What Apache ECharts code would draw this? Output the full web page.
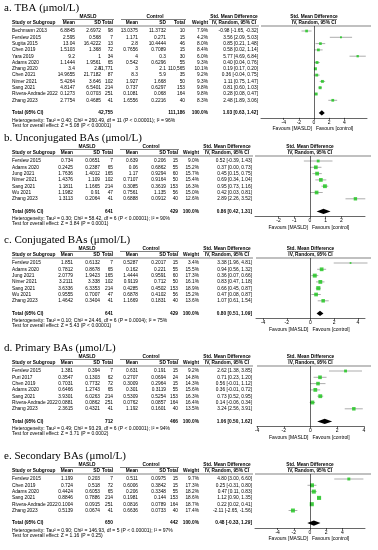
<!DOCTYPE html>
<html><head><meta charset="utf-8">
<script src="https://cdn.jsdelivr.net/npm/echarts@6/dist/echarts.min.js"></script>
<style>html,body{margin:0;padding:0;background:#fff}#c{width:378px;height:550px}</style>
</head><body><div id="c"></div>
<script>
// ---------- Panel a: TBA ----------
const aTitle = 'a. TBA (μmol/L)';
const aStudy = ['Bechmann 2013','Ferslew 2015','Sugita 2015','Chen 2019','Yara 2019','Adams 2020','Zhang 2020','Chen 2021','Nimer 2021','Sang 2021','Rivera-Andrade 2022','Zhang 2023'];
const aMMean = [6.8845,2.595,13.04,1.5103,9.2,1.1444,3.4,14.9655,5.4264,4.8147,0.1273,2.7754];
const aMSD = [2.6972,0.568,16.4222,1.368,1,1.9561,2.3,21.7182,3.646,6.5401,0.0703,0.4685];
const aMN = [98,7,13,72,34,65,41771,87,102,214,251,41];
const aCMean = [13.0375,1.171,2.8,0.7656,4,0.542,3,8.3,1.927,0.737,0.1081,1.6556];
const aCSD = [11.3732,0.271,10.4444,0.7089,0.3,0.6296,2.1,5.9,1.668,0.6297,0.068,0.2216];
const aCN = [10,15,46,15,30,55,110565,35,50,153,164,40];
const aWeight = [7.9,4.2,8.0,8.4,6.0,9.3,10.1,9.2,9.3,9.8,9.8,8.3];
const aSMD = [-0.98,3.56,0.85,0.58,5.77,0.40,0.19,0.36,1.11,0.81,0.28,2.48];
const aLo = [-1.65,2.09,0.21,0.02,4.69,0.04,0.17,-0.04,0.75,0.60,0.08,1.89];
const aHi = [-0.32,5.03,1.48,1.14,6.84,0.76,0.20,0.75,1.47,1.03,0.47,3.06];
const aTotal = [42755,111186,1.03,0.63,1.42];
const aHet = 'Heterogeneity: Tau² = 0.40; Chi² = 260.49, df = 11 (P < 0.00001); I² = 96%';
const aTest = 'Test for overall effect: Z = 5.08 (P < 0.00001)';
const aTicks = [-4,-2,0,2,4];

// ---------- Panel b: Unconjugated BAs ----------
const bTitle = 'b. Unconjugated BAs (μmol/L)';
const bStudy = ['Ferslew 2015','Adams 2020','Jung 2021','Nimer 2021','Sang 2021','Wu 2021','Zhang 2023'];
const bMMean = [0.734,0.2425,1.7636,1.4376,1.1811,1.1982,1.3113];
const bMSD = [0.0651,0.2387,1.4012,1.109,1.1665,0.91,0.2064];
const bMN = [7,65,165,102,214,47,41];
const bCMean = [0.639,0.06,1.17,0.7107,0.3085,0.7561,0.6888];
const bCSD = [0.206,0.6862,0.9294,0.9164,0.3619,1.135,0.0912];
const bCN = [15,55,60,50,153,56,40];
const bWeight = [9.0,15.2,15.7,15.4,16.3,15.0,12.6];
const bSMD = [0.52,0.37,0.45,0.69,0.95,0.42,2.89];
const bLo = [-0.39,0.00,0.15,0.34,0.73,0.03,2.26];
const bHi = [1.43,0.73,0.75,1.04,1.16,0.81,3.52];
const bTotal = [641,429,0.86,0.42,1.31];
const bHet = 'Heterogeneity: Tau² = 0.30; Chi² = 58.42, df = 6 (P < 0.00001); I² = 90%';
const bTest = 'Test for overall effect: Z = 3.84 (P = 0.0001)';
const bTicks = [-2,-1,0,1,2];

// ---------- Panel c: Conjugated BAs ----------
const cTitle = 'c. Conjugated BAs (μmol/L)';
const cStudy = ['Ferslew 2015','Adams 2020','Jung 2021','Nimer 2021','Sang 2021','Wu 2021','Zhang 2023'];
const cMMean = [1.851,0.7812,2.0779,3.2111,3.6336,0.9555,1.4642];
const cMSD = [0.6132,0.8678,1.9423,3.338,6.3353,0.7007,0.3404];
const cMN = [7,65,165,102,214,47,41];
const cCMean = [0.5287,0.162,1.4444,0.9119,0.4285,0.6878,1.1669];
const cCSD = [0.2017,0.221,0.9591,0.712,0.4502,0.4102,0.1831];
const cCN = [15,55,60,50,153,56,40];
const cWeight = [3.4,15.5,17.3,16.1,18.9,15.2,13.6];
const cSMD = [3.38,0.94,0.36,0.83,0.66,0.47,1.07];
const cLo = [1.96,0.56,0.07,0.47,0.45,0.08,0.61];
const cHi = [4.81,1.32,0.66,1.18,0.87,0.87,1.54];
const cTotal = [641,429,0.80,0.51,1.09];
const cHet = 'Heterogeneity: Tau² = 0.10; Chi² = 24.46, df = 6 (P = 0.0004); I² = 75%';
const cTest = 'Test for overall effect: Z = 5.43 (P < 0.00001)';
const cTicks = [-4,-2,0,2,4];

// ---------- Panel d: Primary BAs ----------
const dTitle = 'd. Primary BAs (μmol/L)';
const dStudy = ['Ferslew 2015','Puri 2017','Chen 2019','Adams 2020','Sang 2021','Rivera-Andrade 2022','Zhang 2023'];
const dMMean = [1.381,0.3547,0.7031,0.6466,3.9301,0.0881,2.3615];
const dMSD = [0.394,0.1303,0.7732,1.2743,6.0263,0.0862,0.4321];
const dMN = [7,62,72,65,214,251,41];
const dCMean = [0.631,0.2707,0.3009,0.301,0.5309,0.0762,1.192];
const dCSD = [0.191,0.0694,0.2964,0.3119,0.5254,0.0857,0.1601];
const dCN = [15,24,15,55,153,164,40];
const dWeight = [9.2,14.8,14.3,15.6,16.3,16.4,13.5];
const dSMD = [2.62,0.71,0.56,0.36,0.73,0.14,3.24];
const dLo = [1.38,0.23,-0.01,-0.01,0.52,-0.06,2.56];
const dHi = [3.85,1.20,1.12,0.72,0.95,0.34,3.91];
const dTotal = [712,466,1.06,0.50,1.62];
const dHet = 'Heterogeneity: Tau² = 0.49; Chi² = 93.29, df = 6 (P < 0.00001); I² = 94%';
const dTest = 'Test for overall effect: Z = 3.71 (P = 0.0002)';
const dTicks = [-4,-2,0,2,4];

// ---------- Panel e: Secondary BAs ----------
const eTitle = 'e. Secondary BAs (μmol/L)';
const eStudy = ['Ferslew 2015','Chen 2019','Adams 2020','Sang 2021','Rivera-Andrade 2022','Zhang 2023'];
const eMMean = [1.199,0.724,0.4424,0.8846,0.1004,0.5139];
const eMSD = [0.203,0.518,0.6053,0.7886,0.0915,0.0674];
const eMN = [7,72,65,214,251,41];
const eCMean = [0.511,0.6006,0.206,0.1981,0.0816,0.6636];
const eCSD = [0.0975,0.3842,0.3348,0.144,0.0789,0.0733];
const eCN = [15,15,55,153,164,40];
const eWeight = [9.7,17.3,18.2,18.6,18.7,17.4];
const eSMD = [4.80,0.25,0.47,1.12,0.22,-2.11];
const eLo = [3.00,-0.31,0.11,0.90,0.02,-2.65];
const eHi = [6.60,0.80,0.83,1.35,0.41,-1.56];
const eTotal = [650,442,0.48,-0.33,1.29];
const eHet = 'Heterogeneity: Tau² = 0.90; Chi² = 146.93, df = 5 (P < 0.00001); I² = 97%';
const eTest = 'Test for overall effect: Z = 1.16 (P = 0.25)';
const eTicks = [-4,-2,0,2,4];

// ---------- layout (positions only) ----------
const colsA = {study:12,mMean:75,mSD:101,mN:113,cMean:138,cSD:166,cN:185,w:208,ci:258,masldC:88,ctrlC:155,smdC:234,masldL:[62,114],ctrlL:[121,186],smdL:[209,257]};
const colsB = {study:12,mMean:73,mSD:100,mN:113,cMean:138,cSD:166,cN:178,w:199,ci:252,masldC:87,ctrlC:151,smdC:227,masldL:[60,113],ctrlL:[120,179],smdL:[203,250]};
const panels = [
  {title:aTitle,study:aStudy,mMean:aMMean,mSD:aMSD,mN:aMN,cMean:aCMean,cSD:aCSD,cN:aCN,w:aWeight,smd:aSMD,lo:aLo,hi:aHi,tot:aTotal,het:aHet,test:aTest,ticks:aTicks,
   y0:8,cols:colsA,fx:{left:261,right:367,min:-7,max:7}},
  {title:bTitle,study:bStudy,mMean:bMMean,mSD:bMSD,mN:bMN,cMean:bCMean,cSD:bCSD,cN:bCN,w:bWeight,smd:bSMD,lo:bLo,hi:bHi,tot:bTotal,het:bHet,test:bTest,ticks:bTicks,
   y0:138,cols:colsB,fx:{left:255,right:365,min:-3.5,max:3.5}},
  {title:cTitle,study:cStudy,mMean:cMMean,mSD:cMSD,mN:cMN,cMean:cCMean,cSD:cCSD,cN:cCN,w:cWeight,smd:cSMD,lo:cLo,hi:cHi,tot:cTotal,het:cHet,test:cTest,ticks:cTicks,
   y0:240,cols:colsB,fx:{left:256,right:365,min:-4.6,max:4.6}},
  {title:dTitle,study:dStudy,mMean:dMMean,mSD:dMSD,mN:dMN,cMean:dCMean,cSD:dCSD,cN:dCN,w:dWeight,smd:dSMD,lo:dLo,hi:dHi,tot:dTotal,het:dHet,test:dTest,ticks:dTicks,
   y0:348,cols:colsB,fx:{left:257,right:364,min:-4,max:4}},
  {title:eTitle,study:eStudy,mMean:eMMean,mSD:eMSD,mN:eMN,cMean:eCMean,cSD:eCSD,cN:eCN,w:eWeight,smd:eSMD,lo:eLo,hi:eHi,tot:eTotal,het:eHet,test:eTest,ticks:eTicks,
   y0:456,cols:colsB,fx:{left:255,right:365,min:-6.8,max:6.8}}
];

const STEP = 6.3, FS = 4.8, SANS = 'Liberation Sans, Arial, sans-serif';
const fmtN = v => v.toLocaleString('en-US');
const ciTxt = (e,l,h) => e.toFixed(2) + ' [' + l.toFixed(2) + ', ' + h.toFixed(2) + ']';

function T(x, y, s, align, bold, size, family) {
  return {type:'text', x:x, y:y, silent:true,
    style:{text:s, fill:'#000', fontSize:size||FS, fontFamily:family||SANS, fontWeight:bold?'bold':'normal',
      align:align||'left', verticalAlign:'middle', textAlign:align||'left', textVerticalAlign:'middle'}};
}
function L(x1, y1, x2, y2) {
  return {type:'line', silent:true, shape:{x1:x1,y1:y1,x2:x2,y2:y2}, style:{stroke:'#000', lineWidth:0.5}};
}

const graphics = [], grids = [], xAxes = [], yAxes = [], series = [];

panels.forEach((p, gi) => {
  const n = p.study.length, c = p.cols;
  const gY = p.y0 + 8.5, hY = p.y0 + 15, uY = p.y0 + 18, r0 = p.y0 + 23;
  const rowY = i => r0 + i * STEP;
  const totY = rowY(n + 1), axY = totY + 5;
  const f = p.fx, x0 = f.left + (0 - f.min) / (f.max - f.min) * (f.right - f.left);

  graphics.push(T(4, p.y0, p.title, 'left', false, 11, 'Liberation Serif, Times New Roman, serif'));
  graphics.push(T(c.masldC, gY, 'MASLD', 'center', true));
  graphics.push(T(c.ctrlC, gY, 'Control', 'center', true));
  graphics.push(T(c.smdC, gY, 'Std. Mean Difference', 'center', true));
  graphics.push(T(x0, gY, 'Std. Mean Difference', 'center', true));
  graphics.push(L(c.masldL[0], gY + 3, c.masldL[1], gY + 3));
  graphics.push(L(c.ctrlL[0], gY + 3, c.ctrlL[1], gY + 3));
  graphics.push(L(c.smdL[0], gY + 3, c.smdL[1], gY + 3));
  graphics.push(L(x0 - 23, gY + 3, x0 + 23, gY + 3));
  graphics.push(T(c.study, hY, 'Study or Subgroup', 'left', true));
  graphics.push(T(c.mMean, hY, 'Mean', 'right', true));
  graphics.push(T(c.mSD, hY, 'SD', 'right', true));
  graphics.push(T(c.mN, hY, 'Total', 'right', true));
  graphics.push(T(c.cMean, hY, 'Mean', 'right', true));
  graphics.push(T(c.cSD, hY, 'SD', 'right', true));
  graphics.push(T(c.cN, hY, 'Total', 'right', true));
  graphics.push(T(c.w, hY, 'Weight', 'right', true));
  graphics.push(T(c.smdC, hY, 'IV, Random, 95% CI', 'center', true));
  graphics.push(T(x0, hY, 'IV, Random, 95% CI', 'center', true));
  graphics.push(L(c.study, uY, c.ci + 1, uY));
  graphics.push(L(f.left, uY, 371, uY));

  for (let i = 0; i < n; i++) {
    const y = rowY(i);
    graphics.push(T(c.study, y, p.study[i], 'left'));
    graphics.push(T(c.mMean, y, String(p.mMean[i]), 'right'));
    graphics.push(T(c.mSD, y, String(p.mSD[i]), 'right'));
    graphics.push(T(c.mN, y, fmtN(p.mN[i]), 'right'));
    graphics.push(T(c.cMean, y, String(p.cMean[i]), 'right'));
    graphics.push(T(c.cSD, y, String(p.cSD[i]), 'right'));
    graphics.push(T(c.cN, y, fmtN(p.cN[i]), 'right'));
    graphics.push(T(c.w, y, p.w[i].toFixed(1) + '%', 'right'));
    graphics.push(T(c.ci, y, ciTxt(p.smd[i], p.lo[i], p.hi[i]), 'right'));
  }
  graphics.push(T(c.study, totY, 'Total (95% CI)', 'left', true));
  graphics.push(T(c.mN, totY, fmtN(p.tot[0]), 'right', true));
  graphics.push(T(c.cN, totY, fmtN(p.tot[1]), 'right', true));
  graphics.push(T(c.w, totY, '100.0%', 'right', true));
  graphics.push(T(c.ci, totY, ciTxt(p.tot[2], p.tot[3], p.tot[4]), 'right', true));
  graphics.push(T(c.study, totY + 7.5, p.het, 'left', false, 5));
  graphics.push(T(c.study, totY + 12.5, p.test, 'left', false, 5));
  graphics.push(T(x0 - 2, axY + 11, 'Favours [MASLD]', 'right', false, 5));
  graphics.push(T(x0 + 2, axY + 11, 'Favours [control]', 'left', false, 5));

  grids.push({left:f.left, width:f.right - f.left, top:uY, height:axY - uY, containLabel:false});
  xAxes.push({type:'value', gridIndex:gi, min:f.min, max:f.max, position:'bottom',
    axisLine:{show:true, onZero:false, lineStyle:{color:'#000', width:0.6}},
    axisTick:{show:true, customValues:p.ticks, length:2, lineStyle:{color:'#000', width:0.6}},
    axisLabel:{show:true, customValues:p.ticks, fontSize:5, color:'#000', margin:2, fontFamily:SANS},
    splitLine:{show:false}});
  yAxes.push({type:'value', gridIndex:gi, inverse:true, show:false,
    min:(uY - r0) / STEP, max:(axY - r0) / STEP});

  series.push({type:'custom', xAxisIndex:gi, yAxisIndex:gi, silent:true, z:2,
    data:p.lo.map((v, i) => [v, p.hi[i], i]), encode:{x:[0,1], y:2},
    renderItem:(params, api) => {
      const a = api.coord([api.value(0), api.value(2)]);
      const b = api.coord([api.value(1), api.value(2)]);
      return {type:'line', shape:{x1:a[0], y1:a[1], x2:b[0], y2:b[1]}, style:{stroke:'#8a8a8a', lineWidth:0.7}};
    }});
  series.push({type:'scatter', xAxisIndex:gi, yAxisIndex:gi, silent:true, z:3,
    data:p.smd.map((v, i) => [v, i, p.w[i]]), symbol:'rect',
    symbolSize:v => Math.sqrt(v[2]) * 0.95,
    itemStyle:{color:'#18c418'},
    markLine:{silent:true, symbol:['none','none'], label:{show:false}, animation:false,
      lineStyle:{color:'#000', width:0.6, type:'solid'}, data:[{xAxis:0}]}});
  series.push({type:'custom', xAxisIndex:gi, yAxisIndex:gi, silent:true, z:4,
    data:[[p.tot[3], p.tot[2], p.tot[4], n + 1]], encode:{x:[0,1,2], y:3},
    renderItem:(params, api) => {
      const yv = api.value(3);
      const l = api.coord([api.value(0), yv]), m = api.coord([api.value(1), yv]), r = api.coord([api.value(2), yv]);
      const h = 2.7;
      return {type:'polygon', shape:{points:[[l[0], l[1]], [m[0], m[1] - h], [r[0], r[1]], [m[0], m[1] + h]]}, style:{fill:'#000'}};
    }});
});

const chart = echarts.init(document.getElementById('c'), null, {renderer:'canvas'});
chart.setOption({animation:false, backgroundColor:'#fff', grid:grids, xAxis:xAxes, yAxis:yAxes, series:series, graphic:graphics});
</script></body></html>
